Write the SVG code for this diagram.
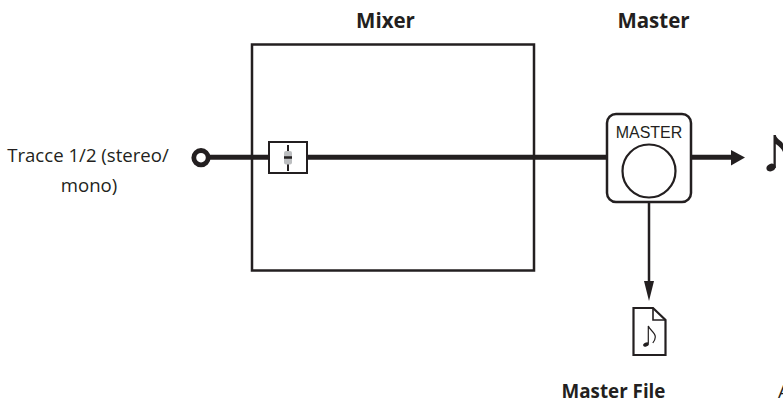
<svg xmlns="http://www.w3.org/2000/svg" width="783" height="403" viewBox="0 0 783 403">
<style>
.t{font-family:"Open Sans","Noto Sans","Liberation Sans",sans-serif;font-size:18.600px;fill:#231f20}
.b{font-weight:700;font-size:20.500px}
.k{stroke:#231f20;fill:none}
.f{fill:#231f20;stroke:none}
</style>
<rect width="783" height="403" fill="#fff"/>
<g id="connectors">
<line class="k" x1="210" y1="157.300" x2="268" y2="157.300" stroke-width="5"/>
<line class="k" x1="307" y1="157.300" x2="607" y2="157.300" stroke-width="5"/>
<line class="k" x1="691" y1="157.300" x2="733" y2="157.300" stroke-width="5"/>
<polygon class="f" points="731,150 745,157.500 731,165.500"/>
<line class="k" x1="649" y1="202" x2="649" y2="285" stroke-width="2.500"/>
<polygon class="f" points="644,281 654,281 649,301"/>
</g>
<g id="input">
<text class="t" x="88" y="162" text-anchor="middle">Tracce 1/2 (stereo/</text>
<text class="t" x="89" y="192" text-anchor="middle">mono)</text>
<circle class="k" cx="201" cy="157.700" r="7.200" stroke-width="4.800" fill="#fff"/>
</g>
<g id="mixer">
<text class="t b" x="385.500" y="28" text-anchor="middle">Mixer</text>
<rect class="k" x="252" y="44.500" width="282" height="226" stroke-width="2.500"/>
</g>
<g id="fader">
<rect x="269" y="142" width="38" height="31" fill="#fff" stroke="#231f20" stroke-width="2"/>
<line class="k" x1="288" y1="145" x2="288" y2="171" stroke-width="2"/>
<rect x="284" y="151" width="8" height="13.500" rx="2" fill="#bcbec0"/>
<line class="k" x1="284" y1="157.500" x2="292" y2="157.500" stroke-width="2.500"/>
</g>
<g id="master">
<text class="t b" x="653.500" y="28" text-anchor="middle">Master</text>
<rect x="607" y="114" width="84" height="88" rx="9" fill="#fff" stroke="#231f20" stroke-width="2.500"/>
<text x="649" y="138" text-anchor="middle" font-family="'Liberation Sans',Arial,sans-serif" font-size="16" fill="#231f20">MASTER</text>
<circle class="k" cx="649" cy="171" r="26.500" stroke-width="2.200"/>
</g>
<g id="output-note">
<ellipse class="f" cx="771" cy="167.500" rx="4.800" ry="3.700" transform="rotate(-25 771 167.500)"/>
<path class="f" d="M773.500 135h2.300v33h-2.300zM775.800 135c1 5 7.200 6 7.200 9v8c-1-3-4-6-7.200-8z"/>
</g>
<g id="master-file">
<path d="M633.500 308H653L665.500 320V355H633.500Z" fill="#fff" stroke="#231f20" stroke-width="2.200"/>
<path d="M653 308V320H665.500" fill="none" stroke="#231f20" stroke-width="1.600"/>
<ellipse class="f" cx="646" cy="344.500" rx="3" ry="2" transform="rotate(-25 646 344.500)"/>
<path d="M648.300 343.500V326c1 4 7 6 7 11 0 2-1 4-2.500 6" fill="none" stroke="#231f20" stroke-width="1.200"/>
<text class="t b" x="613.500" y="398" text-anchor="middle" style="font-size:18.800px">Master File</text>
</g>
<g id="audio-label">
<text class="t" x="778" y="398">A</text>
</g>
</svg>
